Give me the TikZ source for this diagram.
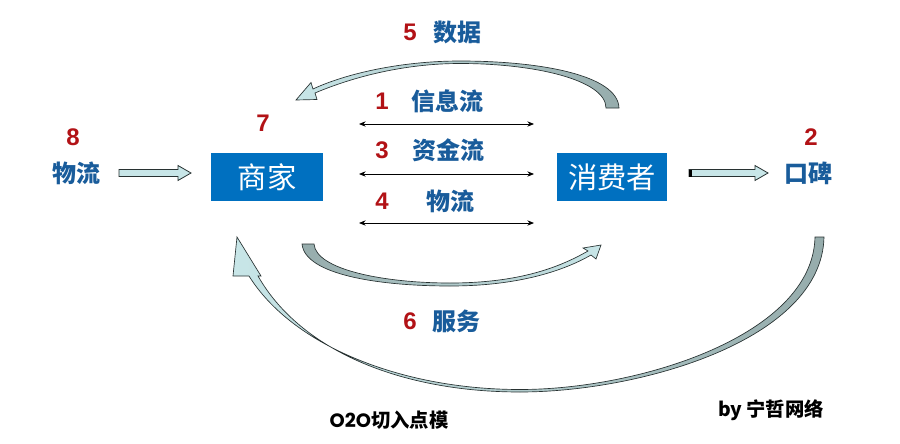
\documentclass[tikz,border=0pt]{standalone}
\usepackage{fontspec}
\setmainfont{Liberation Sans}
\newfontfamily\cjk{Noto Sans CJK SC}
\newfontfamily\pop{Poppins}
\usetikzlibrary{arrows.meta,calc}
\definecolor{boxblue}{RGB}{0,112,192}
\definecolor{lblblue}{RGB}{25,92,155}
\definecolor{numred}{RGB}{178,18,22}
\definecolor{arrlight}{RGB}{200,230,232}
\definecolor{arrdark}{RGB}{150,172,172}
\definecolor{edgecol}{RGB}{40,50,50}
\begin{document}
\begin{tikzpicture}[x=0.75pt,y=-0.75pt,
 box/.style={fill=boxblue, text=white, font=\cjk\fontsize{22}{26}\selectfont, minimum width=84pt, minimum height=36pt, inner sep=0pt},
 lbl/.style={text=lblblue, font=\cjk\bfseries\fontsize{18}{22}\selectfont, inner sep=0pt},
 num/.style={text=numred, font=\bfseries\fontsize{18}{22}\selectfont, inner sep=0pt},
 flow/.style={draw=black, line width=0.6pt, {Stealth[length=5pt,width=4pt]}-{Stealth[length=5pt,width=4pt]}},
 curv/.style={draw=edgecol, line width=0.5pt},
 blockarr/.style={draw=edgecol, line width=0.6pt, fill=arrlight},
 foot/.style={text=black, font=\cjk\bfseries\fontsize{14.5}{17}\selectfont, inner sep=0pt}]

\useasboundingbox[fill=white] (0,0) rectangle (900,443);

% boxes
\node[box] (shang) at (267,177) {商家};
\node[box, minimum width=82.5pt] (xiao) at (612,177) {消费者};

% labels
\node[num] (n8) at (73,137) {8};
\node[lbl] (wl) at (76,173) {物流};
\node[num] (n7) at (263,123) {7};
\node[num] (n2) at (811,137) {2};
\node[lbl] (kb) at (808,173) {口碑};
\node[num] (n1) at (382,101) {1};
\node[lbl] (xx) at (447,101) {信息流};
\node[num] (n3) at (382,150) {3};
\node[lbl] (zj) at (448,150) {资金流};
\node[num] (n4) at (382,201) {4};
\node[lbl] (wl2) at (450,201) {物流};
\node[num] (n5) at (410,32) {5};
\node[lbl] (sj) at (457,32) {数据};
\node[num] (n6) at (410,321) {6};
\node[lbl] (fw) at (456,321) {服务};
\node[foot] (title) at (389,420) {{\pop\bfseries O2O}切入点模};
\node[foot] (by) at (771,410) {{\bfseries by} 宁哲网络};

% double-headed flows
\coordinate (f1l) at (359,124); \coordinate (f1r) at (534,124);
\coordinate (f3l) at (359,174); \coordinate (f3r) at (534,174);
\coordinate (f4l) at (359,223); \coordinate (f4r) at (534,223);
\draw[flow] (f1l) -- (f1r);
\draw[flow] (f3l) -- (f3r);
\draw[flow] (f4l) -- (f4r);

% block arrows
\coordinate (la) at (119,173); \coordinate (lb) at (191,173);
\draw[blockarr] ($(la)+(0,-3.5)$) -- ($(lb)+(-13,-3.5)$) -- ($(lb)+(-13,-7.5)$) -- (lb)
  -- ($(lb)+(-13,7.5)$) -- ($(lb)+(-13,3.5)$) -- ($(la)+(0,3.5)$) -- cycle;
\coordinate (ra) at (689,173); \coordinate (rb) at (768,173);
\draw[blockarr] ($(ra)+(0,-3.5)$) -- ($(rb)+(-13,-3.5)$) -- ($(rb)+(-13,-7.5)$) -- (rb)
  -- ($(rb)+(-13,7.5)$) -- ($(rb)+(-13,3.5)$) -- ($(ra)+(0,3.5)$) -- cycle;
\fill[black] ($(ra)+(0,-3.5)$) rectangle ($(ra)+(3,3.5)$);

% top arc (5 data): tail right, head left
\path[curv, left color=arrlight, right color=arrdark]
  (619,108) .. controls (618,75) and (540,61) .. (460,61)
  .. controls (400,61) and (345,74) .. (313,89)
  -- (311,82.5) -- (296,100) -- (317,99.5) -- (315,93)
  .. controls (348,79) and (400,63.5) .. (460,63.5)
  .. controls (535,63.5) and (606,80) .. (606,108)
  -- cycle;

% lower arc: tail left, head right
\path[curv, left color=arrdark, right color=arrlight]
  (302,244) .. controls (305,275) and (380,286) .. (450,286)
  .. controls (520,286) and (565,270) .. (591,255)
  -- (596,259) -- (601,245) -- (583,248) -- (588,251)
  .. controls (560,267) and (520,283) .. (450,283)
  .. controls (385,283) and (316,270) .. (314,244)
  -- cycle;

% big arc (6 service): tail right, head left
\path[curv, left color=arrlight, right color=arrdark]
  (824,237) .. controls (822,340) and (640,392) .. (520,392)
  .. controls (400,392) and (300,350) .. (258,276)
  -- (261,276) -- (237,237) -- (233,276) -- (249,276)
  .. controls (292,345) and (400,389.5) .. (520,389.5)
  .. controls (640,389.5) and (813,335) .. (815,237)
  -- cycle;

\end{tikzpicture}
\end{document}
